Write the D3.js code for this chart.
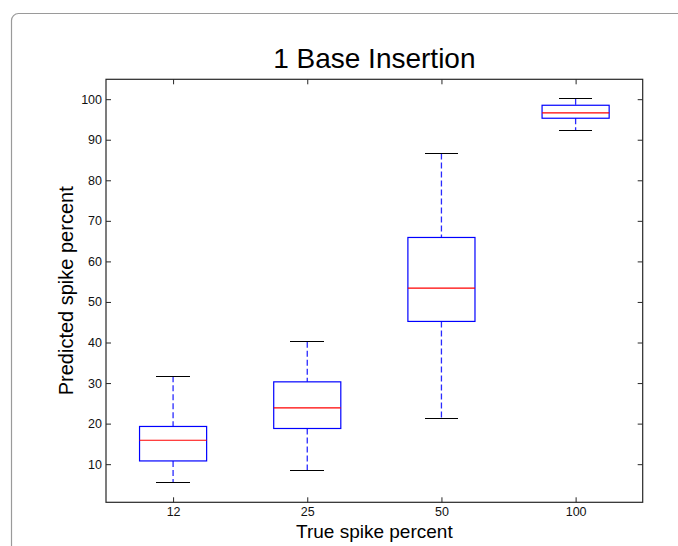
<!DOCTYPE html>
<html>
<head>
<meta charset="utf-8">
<script src="https://cdn.jsdelivr.net/npm/d3@7"></script>
<style>
  body { margin: 0; background: #fff; }
  svg { display: block; font-family: "Liberation Sans", Arial, Helvetica, sans-serif; }
  line.cap { shape-rendering: crispEdges; }
</style>
</head>
<body>
<div id="container"></div>
<script>
// values
const categories = ["12", "25", "50", "100"];
const lowerWhisker = [5.4, 8.5, 21.2, 92.2];
const q1 = [10.8, 18.8, 45.2, 95.3];
const median = [15.9, 23.9, 53.4, 96.6];
const q3 = [19.3, 30.3, 65.9, 98.5];
const upperWhisker = [31.7, 40.2, 86.6, 100.1];
const yTicks = [10, 20, 30, 40, 50, 60, 70, 80, 90, 100];

const w = 678;
const h = 546;
const plot = { left: 106, right: 642.7, top: 79.3, bottom: 502.3 };

const svg = d3.select("#container")
    .append("svg")
    .attr("width", w)
    .attr("height", h);

svg.append("rect")
    .attr("width", w).attr("height", h)
    .attr("fill", "#fff");

// page frame (only top-left corner is visible)
svg.append("rect")
    .attr("x", 11.5).attr("y", 13.5)
    .attr("width", 800).attr("height", 700)
    .attr("rx", 7)
    .attr("fill", "none")
    .attr("stroke", "#9a9a9a")
    .attr("stroke-width", 1.2);

const x = d3.scalePoint()
    .domain(categories)
    .range([plot.left, plot.right])
    .padding(0.5);

const y = d3.scaleLinear()
    .domain([0.6, 104.9])
    .range([plot.bottom, plot.top]);

const step = x.step();
const boxW = step * 0.5;
const capW = step * 0.25;

// axes, ticks pointing inward like matlab
const axisColor = "#262626";

const gLeft = svg.append("g")
    .attr("transform", `translate(${plot.left},0)`)
    .call(d3.axisLeft(y).tickValues(yTicks).tickSize(-5).tickPadding(4));
const gRight = svg.append("g")
    .attr("transform", `translate(${plot.right},0)`)
    .call(d3.axisRight(y).tickValues(yTicks).tickSize(-5).tickFormat(""));
const gBottom = svg.append("g")
    .attr("transform", `translate(0,${plot.bottom})`)
    .call(d3.axisBottom(x).tickSize(-5).tickPadding(5));
const gTop = svg.append("g")
    .attr("transform", `translate(0,${plot.top})`)
    .call(d3.axisTop(x).tickSize(-5).tickFormat(""));

[gLeft, gRight, gBottom, gTop].forEach(g => {
    g.select(".domain").remove();
    g.selectAll(".tick line").attr("stroke", axisColor);
    g.selectAll(".tick text")
        .attr("fill", "#111")
        .style("font-size", "12.5px")
        .style("font-family", "'Liberation Sans', Arial, sans-serif");
});

svg.append("rect")
    .attr("x", plot.left).attr("y", plot.top)
    .attr("width", plot.right - plot.left)
    .attr("height", plot.bottom - plot.top)
    .attr("fill", "none")
    .attr("stroke", axisColor)
    .attr("stroke-width", 1.2);

// boxes
const boxes = svg.append("g")
    .selectAll("g")
    .data(categories)
    .enter().append("g");

boxes.append("line")
    .attr("x1", d => x(d)).attr("x2", d => x(d))
    .attr("y1", (d, i) => y(upperWhisker[i]))
    .attr("y2", (d, i) => y(q3[i]))
    .attr("stroke", "#2a2aff")
    .attr("stroke-width", 1.3)
    .attr("stroke-dasharray", "6,3");

boxes.append("line")
    .attr("x1", d => x(d)).attr("x2", d => x(d))
    .attr("y1", (d, i) => y(q1[i]))
    .attr("y2", (d, i) => y(lowerWhisker[i]))
    .attr("stroke", "#2a2aff")
    .attr("stroke-width", 1.3)
    .attr("stroke-dasharray", "6,3");

boxes.append("line")
    .attr("class", "cap")
    .attr("x1", d => x(d) - capW / 2).attr("x2", d => x(d) + capW / 2)
    .attr("y1", (d, i) => y(upperWhisker[i]))
    .attr("y2", (d, i) => y(upperWhisker[i]))
    .attr("stroke", "#000");

boxes.append("line")
    .attr("class", "cap")
    .attr("x1", d => x(d) - capW / 2).attr("x2", d => x(d) + capW / 2)
    .attr("y1", (d, i) => y(lowerWhisker[i]))
    .attr("y2", (d, i) => y(lowerWhisker[i]))
    .attr("stroke", "#000");

boxes.append("rect")
    .attr("x", d => x(d) - boxW / 2)
    .attr("y", (d, i) => y(q3[i]))
    .attr("width", boxW)
    .attr("height", (d, i) => y(q1[i]) - y(q3[i]))
    .attr("fill", "none")
    .attr("stroke", "#0000ff")
    .attr("stroke-width", 1.2);

boxes.append("line")
    .attr("x1", d => x(d) - boxW / 2).attr("x2", d => x(d) + boxW / 2)
    .attr("y1", (d, i) => y(median[i]))
    .attr("y2", (d, i) => y(median[i]))
    .attr("stroke", "#ff0000")
    .attr("stroke-width", 1.2);

// labels
svg.append("text")
    .attr("x", (plot.left + plot.right) / 2)
    .attr("y", 67.7)
    .attr("text-anchor", "middle")
    .style("font-size", "28px")
    .text("1 Base Insertion");

svg.append("text")
    .attr("x", (plot.left + plot.right) / 2)
    .attr("y", 538.3)
    .attr("text-anchor", "middle")
    .style("font-size", "19px")
    .text("True spike percent");

svg.append("text")
    .attr("transform", `translate(72.5,${(plot.top + plot.bottom) / 2}) rotate(-90)`)
    .attr("text-anchor", "middle")
    .style("font-size", "20px")
    .text("Predicted spike percent");
</script>
</body>
</html>
